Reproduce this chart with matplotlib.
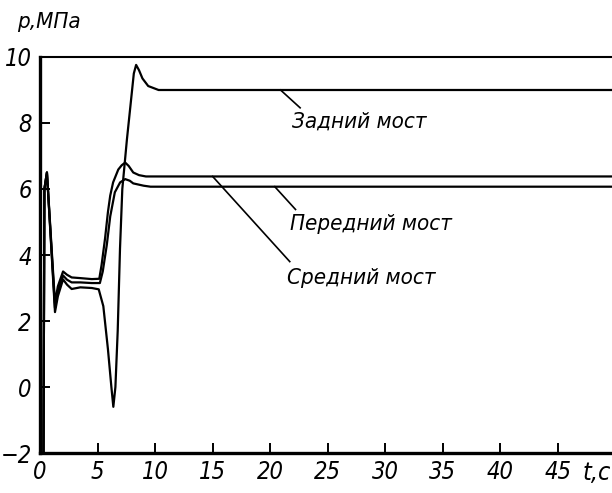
import matplotlib
matplotlib.use("Agg")
import matplotlib.pyplot as plt

FONT = ['DejaVu Sans']
plt.rcParams['font.family'] = FONT

# --- data (t in s, p in MPa) ---
t_rear = [0.30, 0.38, 0.60, 1.30, 1.55, 2.00, 2.35, 2.75, 3.50, 4.50, 5.10, 5.50, 5.90,
          6.20, 6.37, 6.55, 6.75, 6.95, 7.15, 7.55, 7.85, 8.15, 8.35, 8.60, 8.90, 9.40,
          10.3, 49.7]
p_rear = [-2.0, 6.0, 6.5, 2.27, 2.75, 3.26, 3.10, 2.97, 3.02, 3.00, 2.96, 2.45, 1.15,
          0.0, -0.6, 0.0, 1.7, 4.2, 6.0, 7.5, 8.5, 9.5, 9.76, 9.6, 9.35, 9.12,
          9.0, 9.0]

t_mid = [0.30, 0.38, 0.60, 1.30, 1.55, 2.00, 2.35, 2.75, 3.50, 4.50, 5.15, 5.35, 5.65,
         5.90, 6.10, 6.35, 6.80, 7.10, 7.40, 7.70, 8.10, 8.60, 9.20, 49.7]
p_mid = [-2.0, 6.0, 6.5, 2.55, 3.05, 3.50, 3.40, 3.32, 3.30, 3.27, 3.28, 3.70, 4.50,
         5.30, 5.80, 6.20, 6.59, 6.72, 6.80, 6.70, 6.50, 6.42, 6.38, 6.38]

t_front = [0.30, 0.38, 0.60, 1.30, 1.55, 2.00, 2.35, 2.75, 3.50, 4.50, 5.20, 5.45, 5.80,
           6.10, 6.50, 6.96, 7.40, 7.80, 8.10, 9.00, 9.60, 49.7]
p_front = [-2.0, 6.0, 6.5, 2.40, 2.90, 3.38, 3.25, 3.17, 3.17, 3.15, 3.15, 3.50, 4.30,
           5.17, 5.90, 6.20, 6.30, 6.25, 6.17, 6.10, 6.07, 6.07]

x_ticks = [0, 5, 10, 15, 20, 25, 30, 35, 40, 45]
y_ticks = [-2, 0, 2, 4, 6, 8, 10]
y_labels = ['\u22122', '0', '2', '4', '6', '8', '10']

labels = ['Задний мост', 'Передний мост', 'Средний мост']

fig = plt.figure(figsize=(6.12, 4.93), dpi=100)
ax = fig.add_axes([0.0654, 0.0811, 0.9346, 0.8033])

lw = 1.6
for t, p in [(t_rear, p_rear), (t_mid, p_mid), (t_front, p_front)]:
    ax.plot(t, p, color='black', lw=lw, solid_joinstyle='round')

ax.set_xlim(0, 49.7)
ax.set_ylim(-2, 10)

ax.spines['right'].set_visible(False)
ax.spines['left'].set_linewidth(2.4)
ax.spines['bottom'].set_linewidth(2.4)
ax.spines['top'].set_linewidth(1.5)

ax.set_xticks(x_ticks)
ax.set_yticks(y_ticks)
ax.set_yticklabels(y_labels)
ax.tick_params(direction='in', length=7, width=1.4, colors='black')
ax.tick_params(axis='x', pad=5)
ax.tick_params(axis='y', pad=6)
for lab in ax.get_xticklabels() + ax.get_yticklabels():
    lab.set_fontstyle('italic')
    lab.set_fontstretch('condensed')
    lab.set_fontsize(17)

tfont = dict(fontsize=16, style='italic', stretch='condensed', color='black')

# leader lines and labels
ax.plot([20.9, 22.6], [9.0, 8.46], color='black', lw=1.2)
ax.text(21.9, 8.05, labels[0], ha='left', va='center', **tfont)

ax.plot([20.4, 22.2], [6.07, 5.38], color='black', lw=1.2)
ax.text(21.7, 4.95, labels[1], ha='left', va='center', **tfont)

ax.plot([15.0, 21.7], [6.38, 3.8], color='black', lw=1.2)
ax.text(21.5, 3.3, labels[2], ha='left', va='center', **tfont)

# axis captions
fig.text(17 / 612, 1 - 28 / 493, 'p,МПа', ha='left', va='baseline',
         fontsize=16, style='italic', stretch='condensed')
ax.text(48.4, -2.25, 't,c', ha='center', va='top', fontsize=18, style='italic',
        stretch='condensed')

fig.savefig('out.png', dpi=100, facecolor='white')
